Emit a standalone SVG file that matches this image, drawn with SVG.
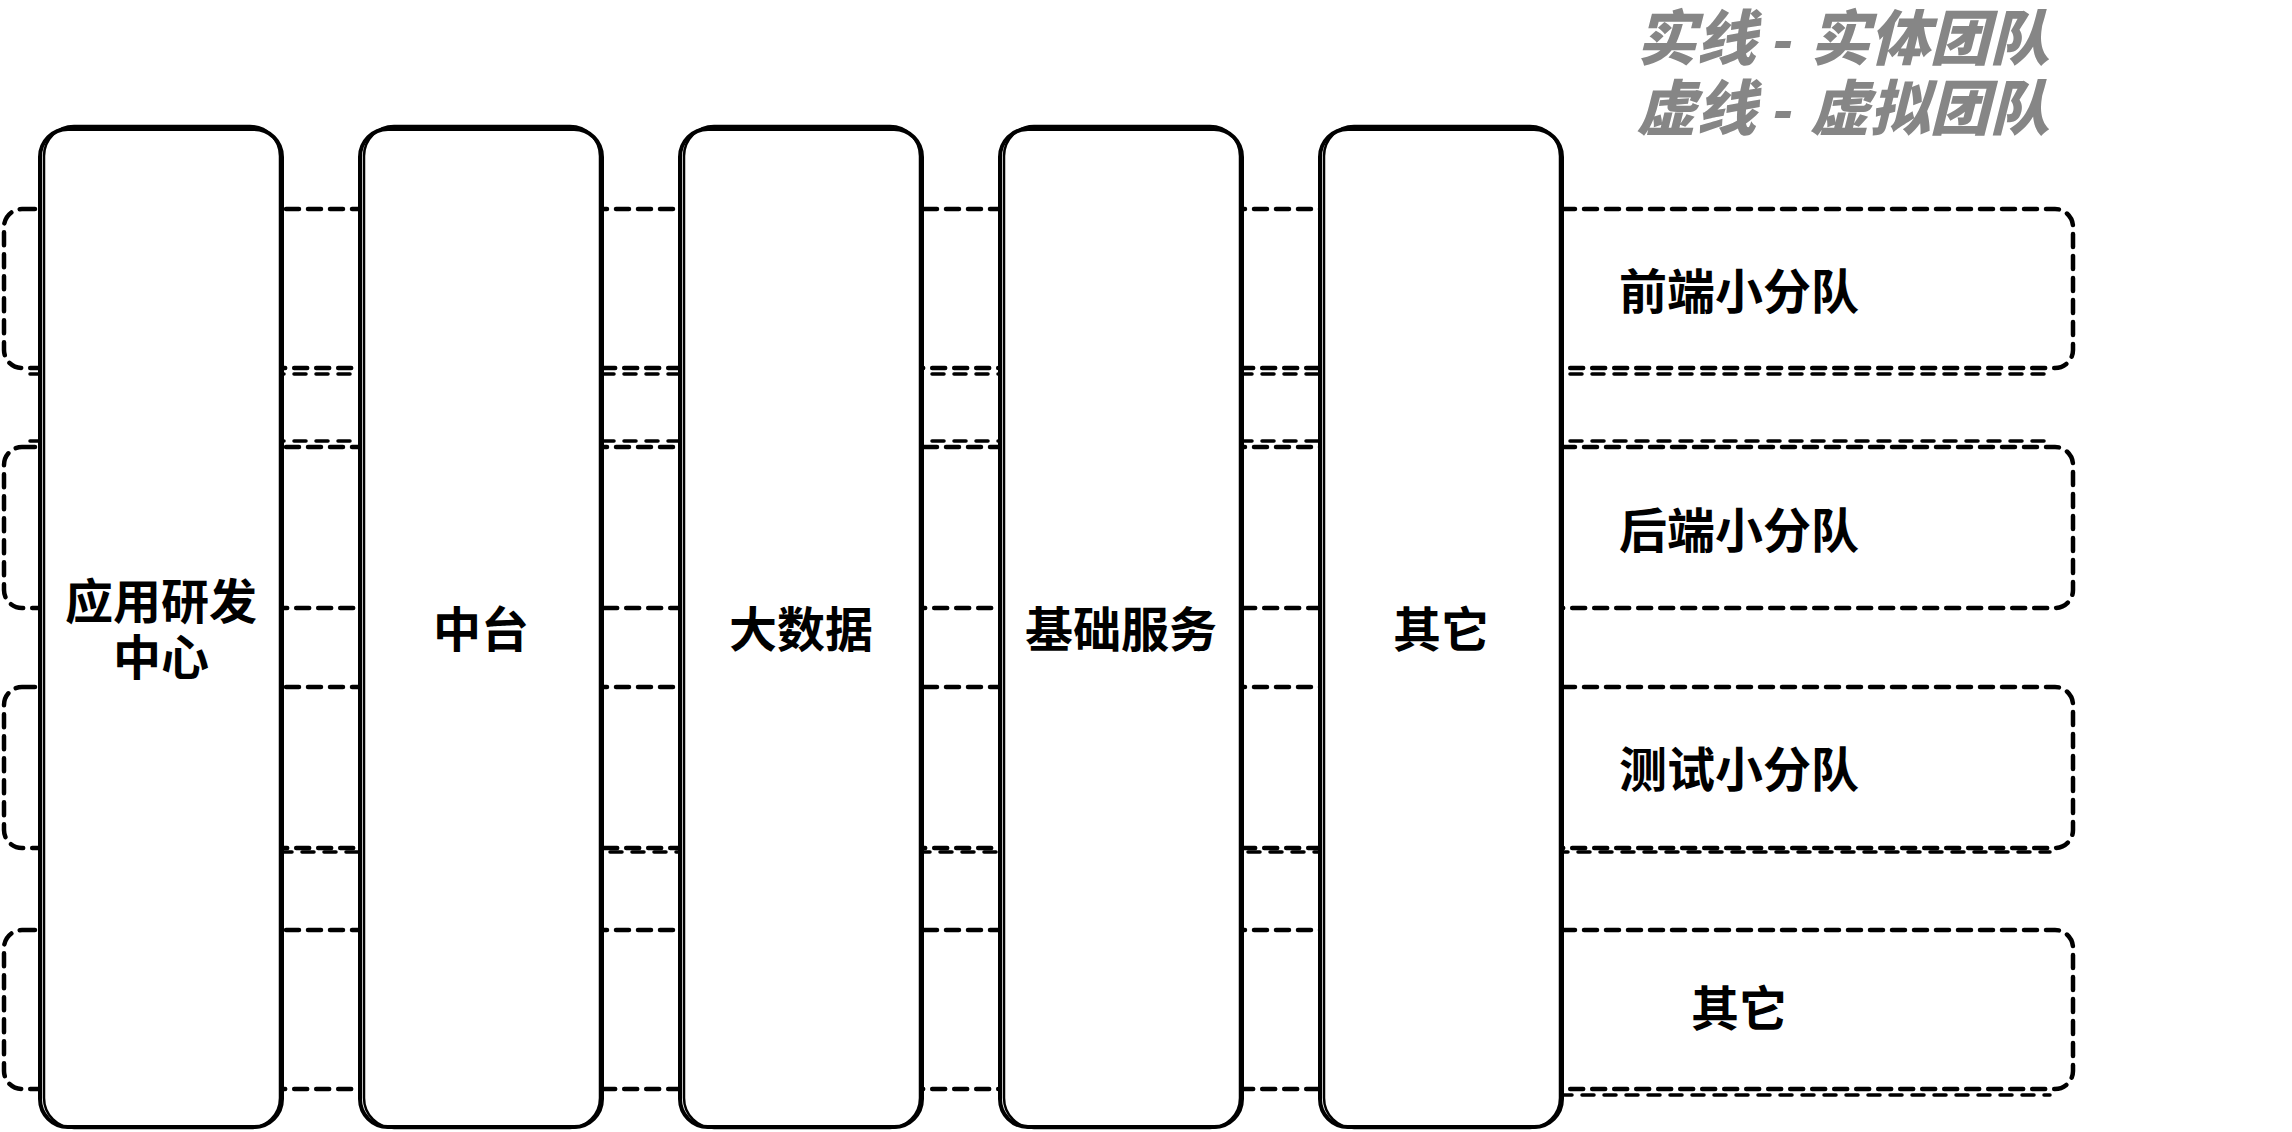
<svg xmlns="http://www.w3.org/2000/svg" width="2292" height="1132" viewBox="0 0 2292 1132">
<style>
.vt{fill:none;stroke:#000;stroke-width:4.5;stroke-dasharray:13 9;stroke-linecap:round}
.vt2{fill:none;stroke:#000;stroke-width:3.5;stroke-dasharray:12 10;stroke-linecap:round}
.col{fill:#fff;stroke:#000;stroke-width:4}
.col2{fill:none;stroke:#000;stroke-width:2.5}
.lbl{font-family:'Liberation Sans','Noto Sans CJK SC',sans-serif;font-weight:700;font-size:48px;fill:#000;text-anchor:middle;dominant-baseline:central}
.leg{font-family:'Liberation Sans','Noto Sans CJK SC',sans-serif;font-weight:900;font-style:italic;font-size:60px;fill:#868686;text-anchor:middle}
</style>
<rect width="2292" height="1132" fill="#fff"/>
<g id="legend">
<text class="leg" x="1843" y="60">实线 - 实体团队</text>
<text class="leg" x="1843" y="130">虚线 - 虚拟团队</text>
</g>
<g id="connectors">
<g id="vt-frontend-frame">
<rect class="vt" x="4" y="209" width="2069" height="159" rx="18"/>
<path class="vt2" d="M30 374 H2050"/>
</g>
<g id="vt-backend-frame">
<rect class="vt" x="4" y="447" width="2069" height="161" rx="18"/>
<path class="vt2" d="M30 441 H2050"/>
</g>
<g id="vt-test-frame">
<rect class="vt" x="4" y="687" width="2069" height="161" rx="18"/>
<path class="vt2" d="M280 852 H2050"/>
</g>
<g id="vt-other-frame">
<rect class="vt" x="4" y="930" width="2069" height="159" rx="18"/>
<path class="vt2" d="M1560 1095 H2050"/>
</g>
</g>
<g id="col-app">
<rect class="col" x="40" y="129" width="242" height="998" rx="28"/>
<rect class="col2" x="44" y="126" width="236" height="1002" rx="30"/>
<text class="lbl" x="161" y="602">应用研发</text>
<text class="lbl" x="161" y="658">中心</text>
</g>
<g id="col-middle">
<rect class="col" x="360" y="129" width="242" height="998" rx="28"/>
<rect class="col2" x="364" y="126" width="236" height="1002" rx="30"/>
<text class="lbl" x="481" y="630">中台</text>
</g>
<g id="col-bigdata">
<rect class="col" x="680" y="129" width="242" height="998" rx="28"/>
<rect class="col2" x="684" y="126" width="236" height="1002" rx="30"/>
<text class="lbl" x="801" y="630">大数据</text>
</g>
<g id="col-infra">
<rect class="col" x="1000" y="129" width="242" height="998" rx="28"/>
<rect class="col2" x="1004" y="126" width="236" height="1002" rx="30"/>
<text class="lbl" x="1121" y="630">基础服务</text>
</g>
<g id="col-other">
<rect class="col" x="1320" y="129" width="242" height="998" rx="28"/>
<rect class="col2" x="1324" y="126" width="236" height="1002" rx="30"/>
<text class="lbl" x="1441" y="630">其它</text>
</g>
<g id="vt-frontend"><text class="lbl" x="1739" y="292">前端小分队</text></g>
<g id="vt-backend"><text class="lbl" x="1739" y="531">后端小分队</text></g>
<g id="vt-test"><text class="lbl" x="1739" y="770">测试小分队</text></g>
<g id="vt-other"><text class="lbl" x="1739" y="1009">其它</text></g>
</svg>
